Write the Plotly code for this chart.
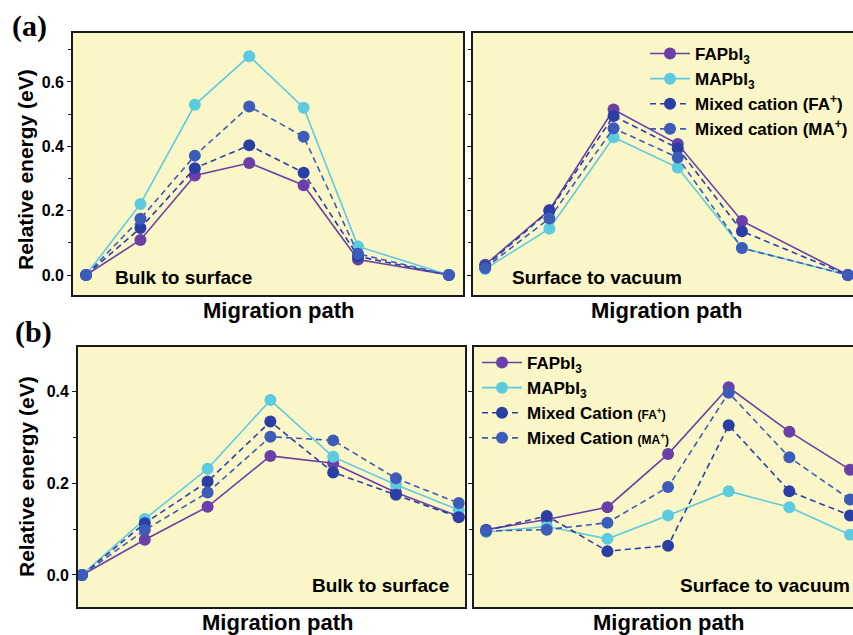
import plotly.graph_objects as go

W, H = 853, 635

# ---------------- data ----------------
# (a) bulk to surface
a_bulk_x = [0, 1, 2, 3, 4, 5, 6.67]
a_bulk_fa = [0.0, 0.109, 0.309, 0.348, 0.279, 0.048, 0.0]
a_bulk_ma = [0.0, 0.221, 0.529, 0.680, 0.520, 0.089, 0.0]
a_bulk_mix_fa = [0.0, 0.146, 0.332, 0.403, 0.318, 0.058, 0.0]
a_bulk_mix_ma = [0.0, 0.175, 0.371, 0.524, 0.430, 0.066, 0.0]

# (a) surface to vacuum
a_surf_x = [0, 1, 2, 3, 4, 5.65]
a_surf_fa = [0.032, 0.202, 0.514, 0.407, 0.168, 0.0]
a_surf_ma = [0.019, 0.144, 0.428, 0.334, 0.084, 0.0]
a_surf_mix_fa = [0.027, 0.199, 0.494, 0.394, 0.136, 0.0]
a_surf_mix_ma = [0.022, 0.176, 0.456, 0.365, 0.084, 0.0]

# (b) bulk to surface
b_bulk_x = [0, 1, 2, 3, 4, 5, 6]
b_bulk_fa = [0.0, 0.077, 0.149, 0.260, 0.244, 0.180, 0.128]
b_bulk_ma = [0.0, 0.122, 0.232, 0.382, 0.258, 0.197, 0.142]
b_bulk_mix_fa = [0.0, 0.113, 0.204, 0.335, 0.224, 0.175, 0.126]
b_bulk_mix_ma = [0.0, 0.098, 0.180, 0.302, 0.294, 0.211, 0.157]

# (b) surface to vacuum
b_surf_x = [0, 1, 2, 3, 4, 5, 6]
b_surf_fa = [0.099, 0.121, 0.148, 0.264, 0.410, 0.313, 0.230]
b_surf_ma = [0.094, 0.106, 0.079, 0.130, 0.183, 0.148, 0.088]
b_surf_mix_fa = [0.097, 0.129, 0.052, 0.064, 0.327, 0.183, 0.130]
b_surf_mix_ma = [0.096, 0.099, 0.114, 0.192, 0.398, 0.257, 0.165]

names_a = ["FAPbI<sub>3</sub>", "MAPbI<sub>3</sub>",
           "Mixed cation (FA<sup>+</sup>)", "Mixed cation (MA<sup>+</sup>)"]
names_b = ["FAPbI<sub>3</sub>", "MAPbI<sub>3</sub>",
           "Mixed Cation <span style='font-size:12px'>(FA<sup>+</sup>)</span>",
           "Mixed Cation <span style='font-size:12px'>(MA<sup>+</sup>)</span>"]

# ---------------- style ----------------
COLORS = ["#6A3FA8", "#5CCBE0", "#2A3FA5", "#3D5BB8"]
DASHES = ["solid", "solid", "6px,4px", "6px,4px"]
BG = "#FBF6C8"
FONT = "Arial, Liberation Sans, sans-serif"
SERIF = "Times New Roman, Liberation Serif, serif"

def px_x(p):
    return p / W

def px_y(p):
    return 1 - p / H

fig = go.Figure()

panels = [
    ("", a_bulk_x, [a_bulk_fa, a_bulk_ma, a_bulk_mix_fa, a_bulk_mix_ma], names_a, "legend", False),
    ("2", a_surf_x, [a_surf_fa, a_surf_ma, a_surf_mix_fa, a_surf_mix_ma], names_a, "legend", True),
    ("3", b_bulk_x, [b_bulk_fa, b_bulk_ma, b_bulk_mix_fa, b_bulk_mix_ma], names_b, "legend2", False),
    ("4", b_surf_x, [b_surf_fa, b_surf_ma, b_surf_mix_fa, b_surf_mix_ma], names_b, "legend2", True),
]

for ax, xs, series, names, leg, show in panels:
    for i, ys in enumerate(series):
        fig.add_trace(go.Scatter(
            x=xs, y=ys, mode="lines+markers", name=names[i],
            line=dict(color=COLORS[i], width=1.6, dash=DASHES[i]),
            marker=dict(color=COLORS[i], size=12),
            xaxis="x" + ax, yaxis="y" + ax,
            legend=leg, showlegend=show,
        ))

# panel geometry (pixels)
geo = {
    "": dict(x0=73, x1=463, y0=33, y1=295, xr=[-0.24, 6.93], yr=[-0.062, 0.752], left=True),
    "2": dict(x0=473, x1=853, y0=33, y1=295, xr=[-0.19, 5.73], yr=[-0.062, 0.752], left=False),
    "3": dict(x0=78, x1=465, y0=347, y1=607, xr=[-0.064, 6.1], yr=[-0.07, 0.498], left=True),
    "4": dict(x0=474, x1=853, y0=347, y1=607, xr=[-0.2, 6.05], yr=[-0.07, 0.498], left=False),
}

layout = dict(
    width=W, height=H,
    margin=dict(l=0, r=0, t=0, b=0),
    paper_bgcolor="white",
    plot_bgcolor=BG,
    font=dict(family=FONT, color="black", size=16),
    showlegend=True,
)

for ax, g in geo.items():
    layout["xaxis" + ax] = dict(
        domain=[px_x(g["x0"]), min(1.0, px_x(g["x1"]))],
        range=g["xr"], showticklabels=False, ticks="",
        showgrid=False, zeroline=False,
        showline=True, linecolor="#1a1a1a", linewidth=1.8, mirror=True,
        anchor="y" + ax,
    )
    layout["yaxis" + ax] = dict(
        domain=[px_y(g["y1"]), px_y(g["y0"])],
        range=g["yr"], showgrid=False, zeroline=False,
        showline=True, linecolor="#1a1a1a", linewidth=1.8,
        mirror=g["left"],
        ticks="outside", ticklen=4, tickwidth=1.2, tickcolor="#1a1a1a",
        tickmode="linear", tick0=0, dtick=0.2,
        tickformat=".1f",
        showticklabels=g["left"],
        tickfont=dict(family=FONT, size=16, color="black", weight="bold"),
        minor=dict(ticks="outside", ticklen=3, dtick=0.1, tick0=0,
                   tickcolor="#1a1a1a", tickwidth=1.2),
        anchor="x" + ax,
    )

legend_font = dict(family=FONT, size=17, color="black", weight="bold")
layout["legend"] = dict(
    x=1.0, y=px_y(36), xanchor="right", yanchor="top",
    bgcolor="rgba(0,0,0,0)", font=legend_font, itemwidth=40,
    tracegroupgap=0,
)
layout["legend2"] = dict(
    x=px_x(477), y=px_y(345), xanchor="left", yanchor="top",
    bgcolor="rgba(0,0,0,0)", font=legend_font, itemwidth=40,
    tracegroupgap=0,
)

fig.update_layout(**layout)

anns = []
def ann(text, x, y, size, xanchor="center", yanchor="middle", angle=0, family=FONT):
    anns.append(dict(
        text=text, x=px_x(x), y=px_y(y), xref="paper", yref="paper",
        xanchor=xanchor, yanchor=yanchor, showarrow=False, textangle=angle,
        font=dict(family=family, size=size, color="black", weight="bold"),
    ))

ann("(a)", 29, 26, 30, family=SERIF)
ann("(b)", 33, 332, 30, family=SERIF)
ann("Relative energy (eV)", 26, 170, 21, angle=-90)
ann("Relative energy (eV)", 26, 477, 21, angle=-90)
ann("Migration path", 279, 310, 22)
ann("Migration path", 667, 310, 22)
ann("Migration path", 278, 622, 22)
ann("Migration path", 669, 622, 22)
ann("Bulk to surface", 113, 277, 19, xanchor="left")
ann("Surface to vacuum", 510, 277, 19, xanchor="left")
ann("Bulk to surface", 310, 585, 19, xanchor="left")
ann("Surface to vacuum", 678, 585, 19, xanchor="left")

fig.update_layout(annotations=anns)
fig.write_html(
    "out.html",
    config={"displayModeBar": False},
    post_script="document.body.style.margin='0';document.body.style.overflow='hidden';",
)
